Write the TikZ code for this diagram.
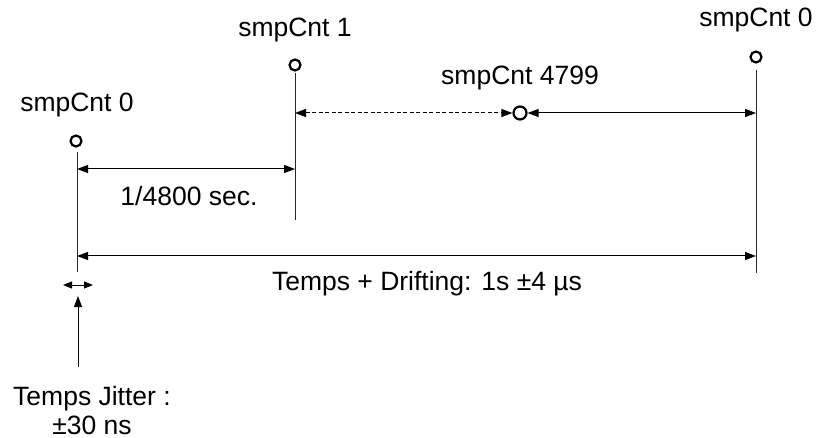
\documentclass[tikz,border=0pt]{standalone}
\usepackage{fontspec}
\setmainfont{Liberation Sans}
\usetikzlibrary{arrows.meta}
\begin{document}
\begin{tikzpicture}[x=1pt,y=-1pt,
  dot/.style={circle,draw,line width=2.2pt,minimum size=11pt,inner sep=0pt},
  bigdot/.style={dot,minimum size=13pt},
  lbl/.style={font=\fontsize{26.5}{31}\selectfont,inner sep=0pt},
  tick/.style={line width=1pt,draw=black!85},
  dim/.style={line width=1pt,{Triangle[length=11pt,width=8pt]}-{Triangle[length=11pt,width=8pt]}},
  smalldim/.style={line width=1pt,{Triangle[length=9pt,width=7pt]}-{Triangle[length=9pt,width=7pt]}},
]
\useasboundingbox (0,0) rectangle (816,438);
% labels
\node[lbl] (l0) at (77,105) {smpCnt 0};
\node[lbl] (l1) at (295,30) {smpCnt 1};
\node[lbl] (l2) at (756,20) {smpCnt 0};
\node[lbl] (lm) at (520,78) {smpCnt 4799};
% circles
\node[dot] (c0) at (76,141) {};
\node[dot] (c1) at (295,65) {};
\node[dot] (c2) at (756,57) {};
\node[bigdot] (cm) at (520,113) {};
% vertical lines
\coordinate (t0) at (77,152); \coordinate (b0) at (77,272);
\coordinate (t1) at (295,73); \coordinate (b1) at (295,220);
\coordinate (t2) at (756,70); \coordinate (b2) at (756,273);
\draw[tick] (t0) -- (b0);
\draw[tick] (t1) -- (b1);
\draw[tick] (t2) -- (b2);
% arrows
\coordinate (d1) at (295,113); \coordinate (d2) at (756,113);
\draw[dim,dash pattern=on 4pt off 2.5pt] (d1) -- (cm.west);
\draw[dim] (cm.east) -- (d2);
\coordinate (a0) at (77,169); \coordinate (a1) at (295,169);
\draw[dim] (a0) -- (a1);
\node[lbl] (t48) at (189,196) {1/4800 sec.};
\coordinate (g0) at (77,256); \coordinate (g2) at (756,256);
\draw[dim] (g0) -- (g2);
\node[lbl] (tdrift) at (427,284) {Temps + Drifting: 1s ±4 µs};
% jitter
\coordinate (j0) at (63,285); \coordinate (j1) at (93,285);
\draw[smalldim] (j0) -- (j1);
\coordinate (u0) at (78,367); \coordinate (u1) at (78,296);
\draw[line width=1pt,-{Triangle[length=11pt,width=8pt]}] (u0) -- (u1);
\node[lbl,anchor=base] (jit) at (92,405) {Temps Jitter :};
\node[lbl,anchor=base] (jit2) at (92,434) {±30 ns};
\end{tikzpicture}
\end{document}
